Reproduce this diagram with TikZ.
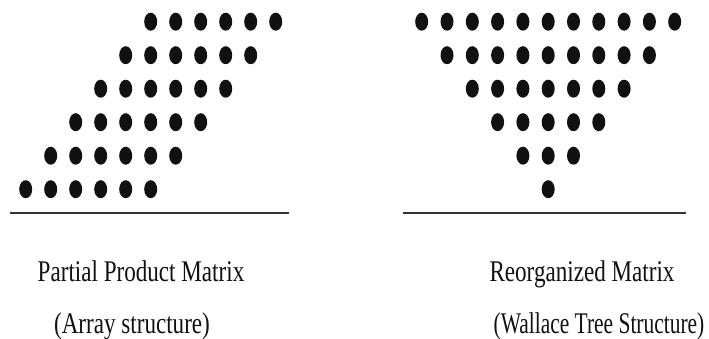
\documentclass[tikz,border=0pt]{standalone}
\usepackage{fontspec}
\setmainfont{Liberation Serif}
\usepackage{tikz}
\definecolor{cInk}{HTML}{111111}
\definecolor{cRule}{HTML}{333333}
\newcommand{\squeezed}[2][0.77]{\scalebox{#1}[1]{#2}}
\tikzset{
  dot/.style     = {ellipse, fill=cInk, inner sep=0pt,
                    minimum width=13pt, minimum height=18pt},
  baserule/.style = {draw=cRule, line width=2.2pt},
  caption/.style = {font=\fontsize{30}{36}\selectfont, text=cInk,
                    inner sep=0pt, anchor=base},
}
\usetikzlibrary{shapes.geometric}
\begin{document}
\begin{tikzpicture}[x=1pt, y=-1pt]
  \useasboundingbox (0,0) rectangle (709,339);
  % partial product matrix: six rows, each shifted one column left
  \foreach \r in {0,...,5} {
    \foreach \c in {0,...,5} {
      \node[dot] (pp-\r-\c) at ({150.7-25*\r+25*\c}, {21.7+33.5*\r}) {};
    }
  }
  \coordinate (ppL) at (10,213);
  \coordinate (ppR) at (289,213);
  \draw[baserule] (ppL) -- (ppR);
  % reorganized matrix: 11, 9, 7, 5, 3, 1 dots
  \foreach \r in {0,...,5} {
    \pgfmathtruncatemacro{\last}{10-2*\r}
    \foreach \c in {0,...,\last} {
      \node[dot] (wt-\r-\c) at ({421.7+25.3*\r+25.3*\c}, {21.7+33.5*\r}) {};
    }
  }
  \coordinate (wtL) at (403,213);
  \coordinate (wtR) at (686,213);
  \draw[baserule] (wtL) -- (wtR);
  % captions
  \node[caption] (ppcap) at (141,281) {\squeezed{Partial Product Matrix}};
  \node[caption] (ppsub) at (132,333) {\squeezed{(Array structure)}};
  \node[caption] (wtcap) at (582,281) {\squeezed{Reorganized Matrix}};
  \node[caption] (wtsub) at (599,333) {\squeezed[0.715]{(Wallace Tree Structure)}};
\end{tikzpicture}
\end{document}
